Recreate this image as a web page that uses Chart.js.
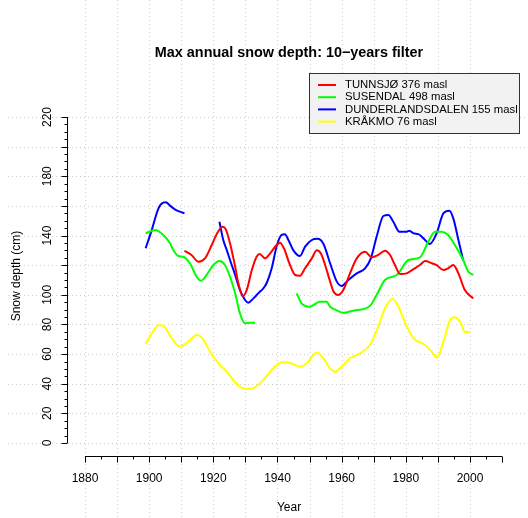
<!DOCTYPE html>
<html>
<head>
<meta charset="utf-8">
<script src="https://cdn.jsdelivr.net/npm/chart.js@4"></script>
<style>
  html, body { margin: 0; padding: 0; background: #fff; }
  #wrap { width: 528px; height: 518px; }
</style>
</head>
<body>
<div id="wrap"><canvas id="snow-chart" width="528" height="518"></canvas></div>
<script>
// values (year, snow depth in cm); null = no data
const tunnsjoYears = [1911, 1913.2, 1915.3, 1917.4, 1919.5, 1921.2, 1922.9, 1923.9, 1925.2, 1926.8, 1927.8, 1929.2, 1930.4, 1932, 1933.5, 1934.5, 1936.1, 1937.7, 1939.7, 1940.8, 1942, 1943.7, 1945.5, 1947, 1948.6, 1950.7, 1952.3, 1953.6, 1954.8, 1956.4, 1957.5, 1959, 1960.5, 1962.6, 1964.7, 1967.3, 1969.4, 1971.4, 1973.5, 1975.1, 1976.6, 1978.2, 1980.3, 1982.3, 1984.4, 1986, 1988.1, 1989.6, 1991.7, 1993.2, 1994.8, 1996.4, 1998.4, 2001];
const tunnsjoDepth = [129.6, 126.9, 122.4, 124.6, 133.6, 141.5, 146, 144.2, 134.8, 119, 107.8, 99.2, 103.2, 116.7, 125.7, 127.5, 124.6, 128, 133.6, 135.2, 131.4, 121.3, 113.4, 112.9, 117.9, 124.6, 130, 127.5, 120.5, 109, 102, 99.9, 103.2, 114.5, 124.6, 129.1, 125.3, 126.9, 129.8, 126.9, 120.1, 114, 114.5, 117.2, 120.1, 122.8, 121.3, 120.1, 116.7, 117.9, 120.1, 114.5, 103.2, 97.6];

const susendalYears = [1898.9, 1901.8, 1904.4, 1906.5, 1907.5, 1909.1, 1910.6, 1912.7, 1914.8, 1916.1, 1917.9, 1920, 1921.9, 1923.6, 1925.2, 1926.8, 1928.3, 1929.9, 1931.4, 1933, 1940, 1946, 1947.5, 1950.1, 1953.2, 1955.3, 1956.4, 1958.5, 1960.5, 1963.6, 1968.8, 1970.9, 1973.5, 1977.2, 1980.8, 1984.4, 1987, 1989.1, 1991.2, 1993.2, 1995.3, 1997.9, 1999.5, 2001];
const susendalDepth = [141.5, 143.7, 140.4, 134.8, 130.2, 126.2, 125.7, 121.3, 112.2, 109.5, 113.4, 120.1, 122.8, 120.1, 112.2, 101, 87.5, 80.8, 81.2, 81.2, null, 101, 94.3, 92, 95.4, 95.4, 92, 89.5, 87.9, 89.3, 92.5, 99.9, 110, 113.4, 123.5, 125.3, 135.9, 142.6, 142.6, 140.4, 133.6, 123.5, 115.6, 113.4];

const dunderYears = [1898.9, 1900.8, 1902.9, 1904.4, 1905.2, 1906.5, 1908, 1909.6, 1911, 1916, 1921.9, 1923.1, 1924.2, 1925.2, 1926.8, 1928.3, 1929.9, 1930.9, 1932.5, 1934, 1935.6, 1936.6, 1938.2, 1939.7, 1941.3, 1942.3, 1943.4, 1944.9, 1947, 1948.6, 1950.7, 1952.4, 1954.3, 1956.4, 1958.5, 1960, 1962.1, 1964.7, 1967.3, 1969.1, 1970.9, 1973, 1974.6, 1976.1, 1978, 1980.3, 1981.1, 1982.4, 1983.9, 1985.5, 1987.5, 1989.6, 1991.7, 1993.6, 1994.8, 1996.4, 1997.9];
const dunderDepth = [131.4, 143.7, 158.4, 162.2, 162.4, 160.2, 157.7, 156.1, 155, null, 149.3, 137, 130.2, 123.5, 113.4, 103.2, 96.5, 94.7, 97.6, 101, 104.4, 107.8, 117.9, 132.5, 140.4, 140.8, 137, 130.2, 126.2, 132.5, 137, 137.8, 134.5, 121.3, 108.9, 106, 110, 114.5, 117.9, 124.6, 139.2, 153.2, 153.9, 149.3, 142.6, 142.6, 143.3, 141.5, 141, 138.1, 134.3, 141.5, 155, 156.8, 151.6, 137, 123];

const krakmoYears = [1898.9, 1900.8, 1903.2, 1904.9, 1907, 1909.6, 1912.2, 1914.8, 1916.4, 1919, 1921.6, 1924.2, 1926.2, 1928.3, 1930.4, 1933, 1935.6, 1938.7, 1941.3, 1943.9, 1947, 1949.1, 1952.2, 1954.3, 1956.4, 1958, 1960, 1962.6, 1965.7, 1968.8, 1971.4, 1973.5, 1975.9, 1977.7, 1980.3, 1982.4, 1986, 1988.1, 1989.8, 1991.7, 1993.8, 1995.1, 1996.9, 1998.4, 2000];
const krakmoDepth = [66.8, 74, 79.6, 78.1, 70.7, 65, 68.4, 72.9, 71.3, 61.6, 53.8, 48.1, 42.5, 38, 36.4, 37.6, 42.5, 50.4, 54.5, 54.2, 51.5, 53.8, 61, 57.2, 50.4, 48.1, 51.5, 57.2, 60.5, 66.1, 78.5, 90.9, 97.2, 92, 78.5, 70.7, 66.1, 61.6, 57.8, 68.4, 83, 84.8, 81.9, 75.1, 74.7];

const seriesNames = ["TUNNSJØ 376 masl", "SUSENDAL 498 masl", "DUNDERLANDSDALEN 155 masl", "KRÅKMO 76 masl"];
const seriesColors = ["#ff0000", "#00ff00", "#0000ff", "#ffff00"];

const xTickLabels = [1880, 1900, 1920, 1940, 1960, 1980, 2000];
const yTickLabels = [0, 20, 40, 60, 80, 100, 140, 180, 220];

const toPoints = (xs, ys) => xs.map((x, i) => ({ x: x, y: ys[i] }));

const datasets = [
  toPoints(tunnsjoYears, tunnsjoDepth),
  toPoints(susendalYears, susendalDepth),
  toPoints(dunderYears, dunderDepth),
  toPoints(krakmoYears, krakmoDepth),
].map((pts, i) => ({
  label: seriesNames[i],
  data: pts,
  borderColor: seriesColors[i],
  backgroundColor: seriesColors[i],
  borderWidth: 2,
  pointRadius: 0,
  fill: false,
  spanGaps: false,
  cubicInterpolationMode: "monotone",
}));

const FONT = "'Liberation Sans', Arial, Helvetica, sans-serif";

// R-like axes, dotted grid, title and legend box
const rStyle = {
  id: "rStyle",
  beforeDraw(chart) {
    const ctx = chart.ctx, xs = chart.scales.x, ys = chart.scales.y;
    ctx.save();
    ctx.fillStyle = "#fff";
    ctx.fillRect(0, 0, chart.width, chart.height);
    ctx.strokeStyle = "#cfcfcf";
    ctx.lineWidth = 1;
    ctx.setLineDash([1, 3]);
    for (let yr = 1880; yr <= 2000; yr += 10) {
      const x = Math.round(xs.getPixelForValue(yr)) + 0.5;
      ctx.beginPath(); ctx.moveTo(x, 0); ctx.lineTo(x, chart.height); ctx.stroke();
    }
    for (let v = 0; v <= 220; v += 20) {
      const y = Math.round(ys.getPixelForValue(v)) + 0.5;
      ctx.beginPath(); ctx.moveTo(8, y); ctx.lineTo(chart.width, y); ctx.stroke();
    }
    ctx.restore();
  },
  afterDraw(chart) {
    const ctx = chart.ctx, xs = chart.scales.x, ys = chart.scales.y, a = chart.chartArea;
    ctx.save();
    ctx.strokeStyle = "#000";
    ctx.fillStyle = "#000";
    ctx.lineWidth = 1;

    // x axis
    const ay = Math.round(a.bottom) + 0.5;
    ctx.beginPath();
    ctx.moveTo(xs.getPixelForValue(1880), ay);
    ctx.lineTo(xs.getPixelForValue(2010), ay);
    for (let yr = 1880; yr <= 2010; yr += 5) {
      const x = Math.round(xs.getPixelForValue(yr)) + 0.5;
      ctx.moveTo(x, ay);
      ctx.lineTo(x, ay + (yr % 10 === 0 ? 6 : 3));
    }
    ctx.stroke();
    ctx.font = "12px " + FONT;
    ctx.textAlign = "center";
    ctx.textBaseline = "middle";
    xTickLabels.forEach(yr => ctx.fillText(String(yr), xs.getPixelForValue(yr), 479));

    // y axis
    const ax = Math.round(a.left) + 0.5;
    ctx.beginPath();
    ctx.moveTo(ax, ys.getPixelForValue(0));
    ctx.lineTo(ax, ys.getPixelForValue(220));
    for (let v = 0; v <= 220; v += 5) {
      const y = Math.round(ys.getPixelForValue(v)) + 0.5;
      ctx.moveTo(ax, y);
      ctx.lineTo(ax - (v % 20 === 0 ? 6 : 3), y);
    }
    ctx.stroke();
    yTickLabels.forEach(v => {
      ctx.save();
      ctx.translate(48, ys.getPixelForValue(v));
      ctx.rotate(-Math.PI / 2);
      ctx.fillText(String(v), 0, 0);
      ctx.restore();
    });

    // axis titles
    ctx.fillText("Year", 289, 508);
    ctx.save();
    ctx.translate(17, 276);
    ctx.rotate(-Math.PI / 2);
    ctx.fillText("Snow depth (cm)", 0, 0);
    ctx.restore();

    // main title
    ctx.font = "bold 14.4px " + FONT;
    ctx.fillText("Max annual snow depth: 10\u2212years filter", 289, 53);

    // legend
    ctx.fillStyle = "#f2f2f2";
    ctx.fillRect(309.5, 73.5, 210, 60);
    ctx.strokeStyle = "#333";
    ctx.strokeRect(309.5, 73.5, 210, 60);
    ctx.font = "11.3px " + FONT;
    ctx.textAlign = "left";
    seriesNames.forEach((name, i) => {
      const y = 85 + i * 12.2;
      ctx.strokeStyle = seriesColors[i];
      ctx.lineWidth = 2;
      ctx.beginPath(); ctx.moveTo(318, y); ctx.lineTo(336, y); ctx.stroke();
      ctx.fillStyle = "#000";
      ctx.fillText(name, 345, y);
    });
    ctx.restore();
  },
};

new Chart(document.getElementById("snow-chart").getContext("2d"), {
  type: "line",
  data: { datasets: datasets },
  options: {
    responsive: false,
    animation: false,
    layout: { padding: { left: 67, right: 8, top: 104, bottom: 62 } },
    scales: {
      x: { type: "linear", min: 1874.39, max: 2015.59, display: false },
      y: { type: "linear", min: -8.77, max: 228.78, display: false },
    },
    plugins: {
      legend: { display: false },
      title: { display: false },
      tooltip: { enabled: false },
    },
  },
  plugins: [rStyle],
});
</script>
</body>
</html>
